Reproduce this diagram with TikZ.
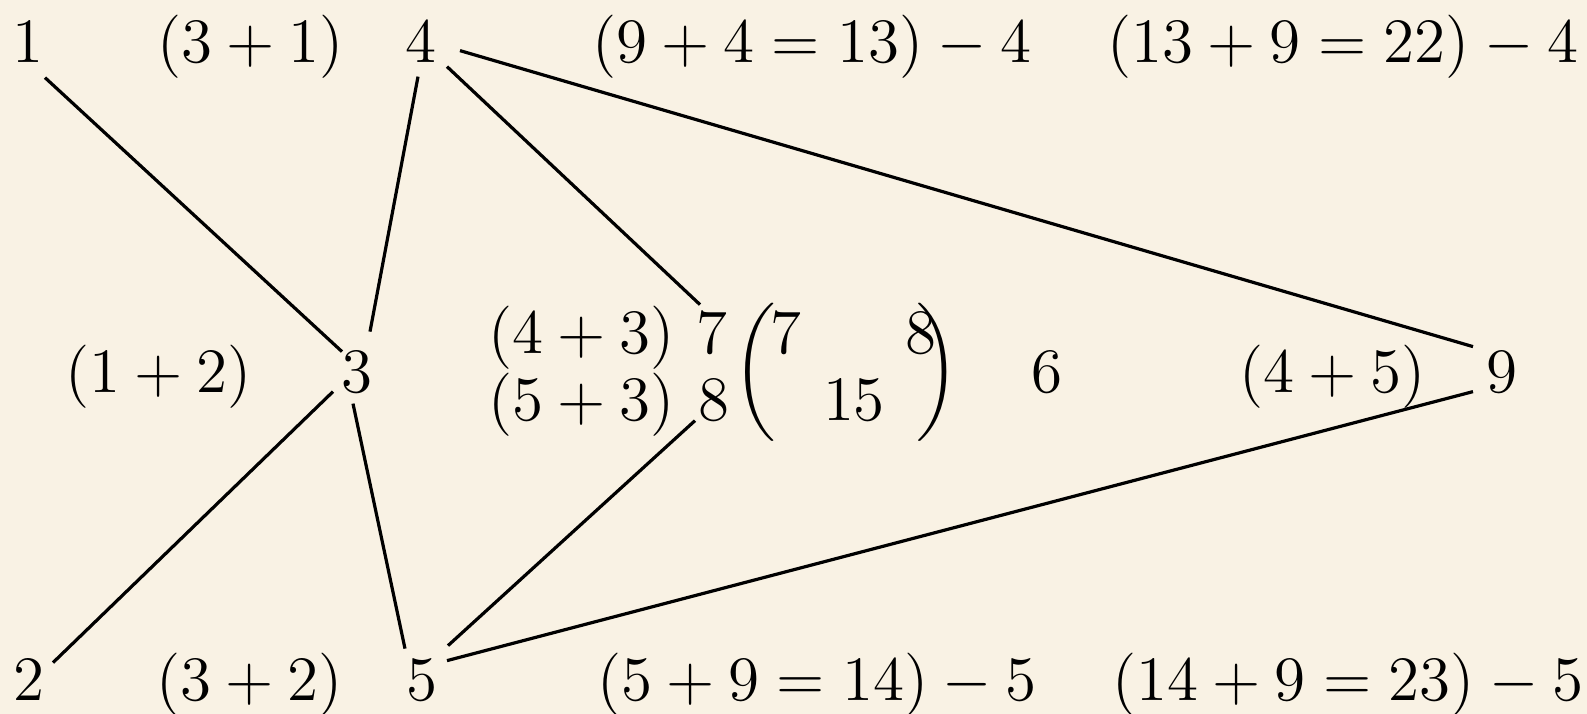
\RequirePackage{fix-cm}
\documentclass[tikz,border=0pt]{standalone}
\usepackage{amsmath}
\usetikzlibrary{calc}
\definecolor{paper}{RGB}{249,242,228}
\begin{document}
\begin{tikzpicture}[x=0.25pt,y=-0.25pt,
  t/.style={inner sep=0pt, anchor=base, font=\fontsize{15.8}{19}\selectfont},
  par/.style={inner sep=0pt, font=\fontsize{15.8}{19}\selectfont},
  edge/.style={line width=0.8pt}]
\fill[paper] (0,0) rectangle (1587,714);
\useasboundingbox (0,0) rectangle (1587,714);
% top row
\node[t] (n1) at (28,63) {$1$};
\node[t] (a31) at (251,63) {$(3+1)$};
\node[t] (n4) at (421,63) {$4$};
\node[t] (e13) at (812,63) {$(9+4=13)-4$};
\node[t] (e22) at (1343,63) {$(13+9=22)-4$};
% middle
\node[t] (a12) at (159,393) {$(1+2)$};
\node[t] (n3) at (357,393) {$3$};
\node[t] (a43) at (582,354) {$(4+3)$};
\node[t] (n7) at (712,354) {$7$};
\node[t] (a53) at (582,421) {$(5+3)$};
\node[t] (n8) at (714,421) {$8$};
\node[par] (lp) at (755,372) {$\biggl($};
\node[t] (m7) at (786,354) {$7$};
\node[t] (m8) at (921,354) {$8$};
\node[t] (m15) at (854,421) {$15$};
\node[par] (rp) at (938,372) {$\biggr)$};
\node[t] (n6) at (1047,393) {$6$};
\node[t] (a45) at (1333,393) {$(4+5)$};
\node[t] (n9) at (1502,393) {$9$};
% bottom row
\node[t] (n2) at (29,701) {$2$};
\node[t] (a32) at (250,701) {$(3+2)$};
\node[t] (n5) at (422,701) {$5$};
\node[t] (e14) at (817,701) {$(5+9=14)-5$};
\node[t] (e23) at (1348,701) {$(14+9=23)-5$};
% connectors
\draw[edge] ($(n1.center)+(17,35)$) -- ($(n3.center)+(-15,-21)$);
\draw[edge] ($(n4.center)+(-3,34)$) -- ($(n3.center)+(13,-41)$);
\draw[edge] ($(n4.center)+(26,24)$) -- ($(n7.center)+(-12,-29)$);
\draw[edge] ($(n4.center)+(39,8)$) -- ($(n9.center)+(-29,-26)$);
\draw[edge] ($(n3.center)+(-24,19)$) -- ($(n2.center)+(24,-18)$);
\draw[edge] ($(n3.center)+(-4,31)$) -- ($(n5.center)+(-17,-32)$);
\draw[edge] ($(n8.center)+(-19,20)$) -- ($(n5.center)+(26,-35)$);
\draw[edge] ($(n5.center)+(25,-20)$) -- ($(n9.center)+(-29,19)$);
\end{tikzpicture}
\end{document}
